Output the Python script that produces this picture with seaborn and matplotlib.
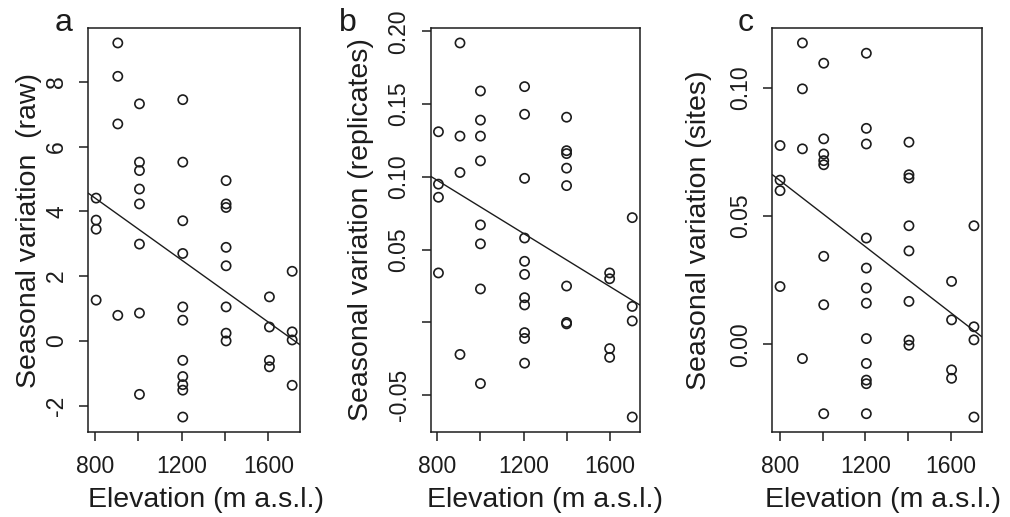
import matplotlib
matplotlib.use("Agg")
import matplotlib.pyplot as plt
import pandas as pd
import seaborn as sns

# panel a: raw
elev_a = [805, 805, 805, 805,
          905, 905, 905, 905,
          1005, 1005, 1005, 1005, 1005, 1005, 1005, 1005,
          1205, 1205, 1205, 1205, 1205, 1205, 1205, 1205, 1205, 1205, 1205,
          1405, 1405, 1405, 1405, 1405, 1405, 1405, 1405,
          1605, 1605, 1605, 1605,
          1710, 1710, 1710, 1710]
raw = [4.41, 3.73, 3.45, 1.26,
       9.20, 8.17, 6.70, 0.79,
       7.32, 5.52, 5.26, 4.69, 4.23, 2.99, 0.86, -1.65,
       7.45, 5.52, 3.71, 2.70, 1.05, 0.64, -0.60, -1.10, -1.35, -1.52, -2.35,
       4.95, 4.23, 4.12, 2.89, 2.32, 1.05, 0.24, 0.00,
       1.36, 0.43, -0.60, -0.80,
       2.15, 0.28, 0.03, -1.37]

# panel b: replicates
elev_b = [805, 805, 805, 805,
          905, 905, 905, 905,
          1000, 1000, 1000, 1000, 1000, 1000, 1000, 1000,
          1205, 1205, 1205, 1205, 1205, 1205, 1205, 1205, 1205, 1205, 1205,
          1400, 1400, 1400, 1400, 1400, 1400, 1400, 1400,
          1600, 1600, 1600, 1600,
          1705, 1705, 1705, 1705]
replicates = [0.131, 0.095, 0.086, 0.034,
              0.192, 0.128, 0.103, -0.022,
              0.159, 0.139, 0.128, 0.111, 0.067, 0.054, 0.023, -0.042,
              0.162, 0.143, 0.099, 0.058, 0.042, 0.033, 0.017, 0.012, -0.007, -0.011, -0.028,
              0.141, 0.118, 0.116, 0.106, 0.094, 0.025, 0.000, -0.001,
              0.034, 0.030, -0.018, -0.024,
              0.072, 0.011, 0.001, -0.065]

# panel c: sites
elev_c = [800, 800, 800, 800,
          905, 905, 905, 905,
          1005, 1005, 1005, 1005, 1005, 1005, 1005, 1005,
          1205, 1205, 1205, 1205, 1205, 1205, 1205, 1205, 1205, 1205, 1205, 1205,
          1405, 1405, 1405, 1405, 1405, 1405, 1405, 1405,
          1605, 1605, 1605, 1605,
          1710, 1710, 1710, 1710]
sites = [0.0775, 0.0640, 0.0599, 0.0225,
         0.1175, 0.0996, 0.0762, -0.0056,
         0.1096, 0.0801, 0.0742, 0.0716, 0.0700, 0.0343, 0.0154, -0.0271,
         0.1135, 0.0842, 0.0781, 0.0414, 0.0297, 0.0219, 0.0160, 0.0022, -0.0075, -0.0140, -0.0154, -0.0271,
         0.0788, 0.0661, 0.0648, 0.0462, 0.0364, 0.0167, 0.0016, -0.0004,
         0.0245, 0.0095, -0.0100, -0.0133,
         0.0462, 0.0068, 0.0017, -0.0284]

letters = ["a", "b", "c"]
ylabels = ["Seasonal variation  (raw)", "Seasonal variation (replicates)", "Seasonal variation (sites)"]
yticks = [[-2, 0, 2, 4, 6, 8],
          [-0.05, 0.0, 0.05, 0.10, 0.15, 0.20],
          [0.0, 0.05, 0.10]]
yticklabels = [["-2", "0", "2", "4", "6", "8"],
               ["-0.05", "", "0.05", "0.10", "0.15", "0.20"],
               ["0.00", "0.05", "0.10"]]
xticks = [800, 1000, 1200, 1400, 1600]
xticklabels = ["800", "", "1200", "", "1600"]

sns.set_theme(style="ticks")
plt.rcParams["font.family"] = ["Liberation Sans", "DejaVu Sans"]
ink = "#1c1c1c"

fig = plt.figure(figsize=(10.1, 5.17), dpi=100)
W, H = 1010, 517
boxes = [(88.3, 300.0), (430.7, 640.0), (772.3, 981.7)]
ylab_x = [-0.219, -0.271, -0.288]
xlab_x = [0.556, 0.548, 0.529]
letter_x = [64, 348, 746]

panels = [(elev_a, raw), (elev_b, replicates), (elev_c, sites)]

for i, (elev, vals) in enumerate(panels):
    l, r = boxes[i]
    ax = fig.add_axes([l / W, (517 - 432) / H, (r - l) / W, 404 / H])
    df = pd.DataFrame({"Elevation": elev, "Value": vals})

    # R style axis ranges: data range + 4%
    xr = max(elev) - min(elev)
    yr = max(vals) - min(vals)
    xlim = (min(elev) - 0.04 * xr, max(elev) + 0.04 * xr)
    ylim = (min(vals) - 0.04 * yr, max(vals) + 0.04 * yr)
    ax.set_xlim(xlim)
    ax.set_ylim(ylim)

    sns.scatterplot(data=df, x="Elevation", y="Value", ax=ax, s=44,
                    facecolor="none", edgecolor=ink, linewidth=1.2, zorder=3)
    sns.regplot(data=df, x="Elevation", y="Value", ax=ax, scatter=False,
                ci=None, truncate=False, color=ink, line_kws={"linewidth": 1.0})

    ax.set_xlim(xlim)
    ax.set_ylim(ylim)

    ax.set_xticks(xticks)
    ax.set_xticklabels(xticklabels)
    ax.set_yticks(yticks[i])
    ax.set_yticklabels(yticklabels[i], rotation=90, va="center")

    ax.tick_params(axis="both", direction="out", length=6.5, width=1.1,
                   colors=ink, labelsize=16.5)
    ax.tick_params(axis="x", pad=10)
    ax.tick_params(axis="y", pad=8)
    for s in ax.spines.values():
        s.set_visible(True)
        s.set_color(ink)
        s.set_linewidth(1.1)

    ax.set_xlabel("Elevation (m a.s.l.)", fontsize=20.5, color=ink)
    ax.set_ylabel(ylabels[i], fontsize=20.5, color=ink)
    ax.xaxis.set_label_coords(xlab_x[i], -0.136)
    ax.yaxis.set_label_coords(ylab_x[i], 0.5)

    fig.text(letter_x[i] / W, 1 - 31 / H, letters[i], fontsize=23, color=ink,
             ha="center", va="baseline")

fig.savefig("out.png", dpi=100)
